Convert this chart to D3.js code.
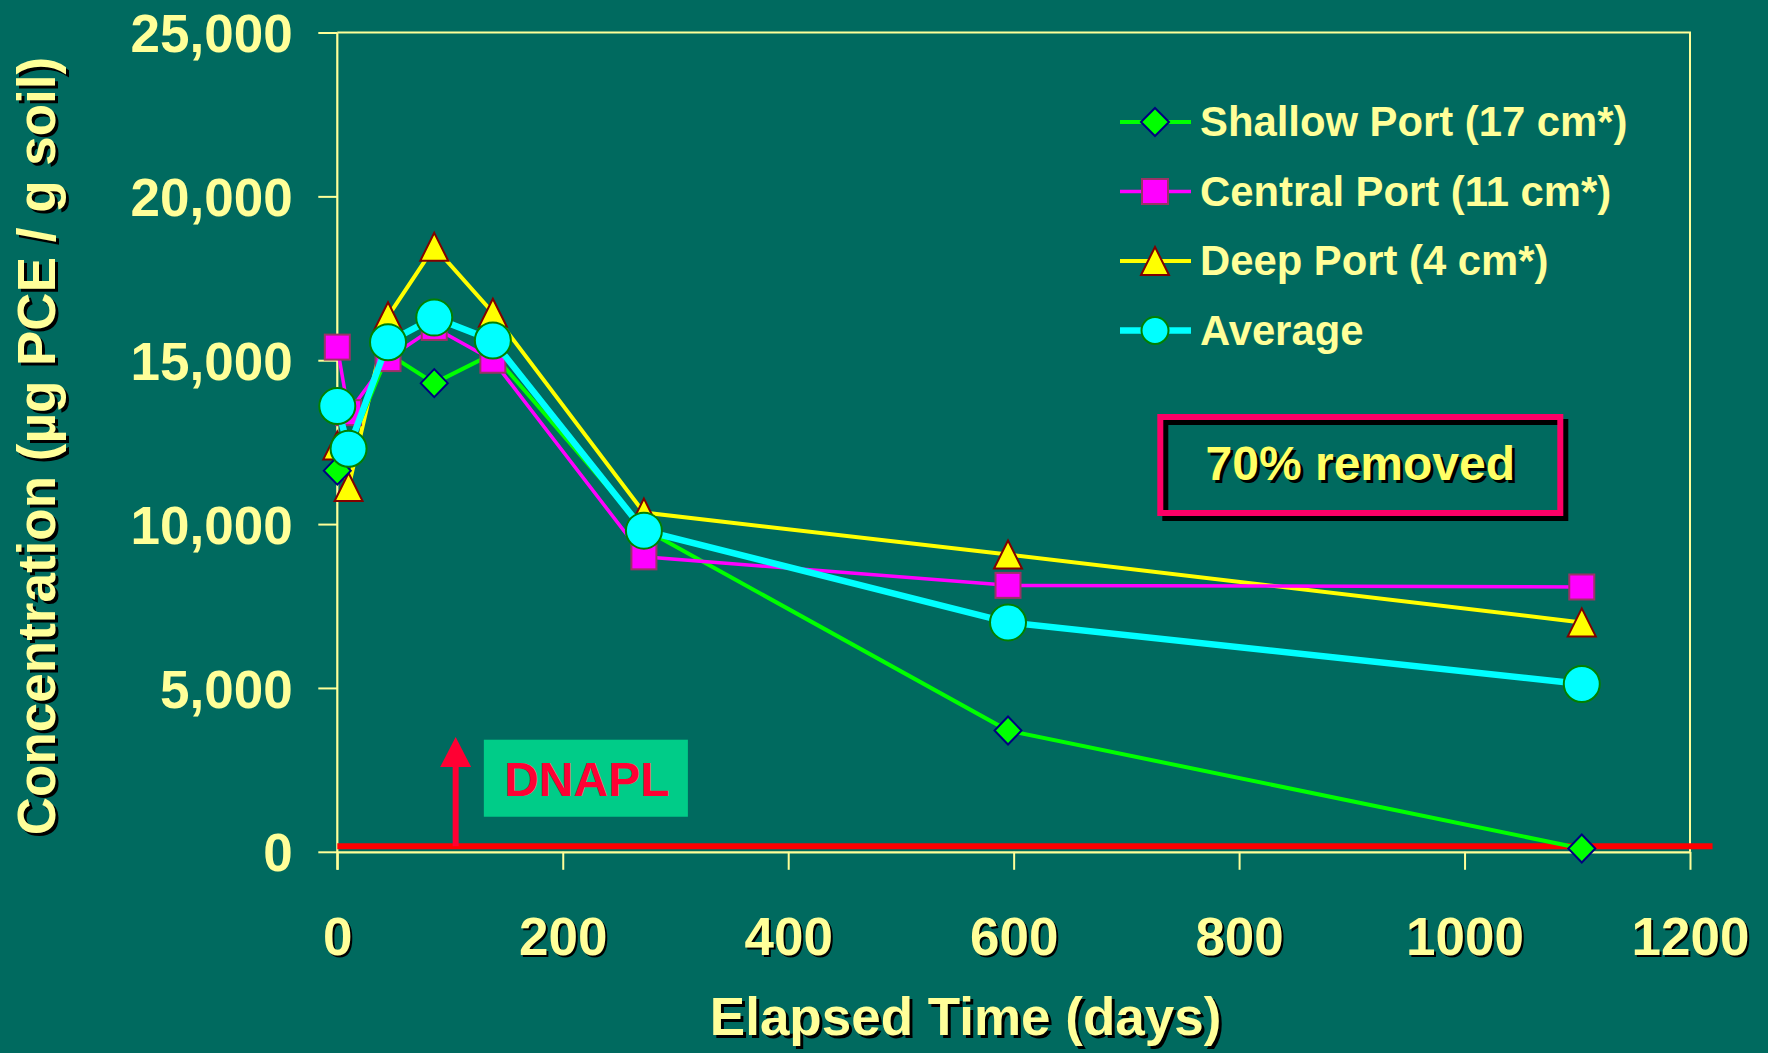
<!DOCTYPE html>
<html>
<head>
<meta charset="utf-8">
<script src="https://cdn.jsdelivr.net/npm/d3@7"></script>
<style>
  html, body { margin: 0; padding: 0; background: #006A5F; }
  svg { display: block; }
  text { font-family: "Liberation Sans", Arial, sans-serif; font-weight: bold; }
</style>
</head>
<body>
<svg id="chart" width="1768" height="1053"></svg>
<script>
// Elapsed time of each soil sample (days)
const days = [0, 10, 45, 86, 138, 272, 595, 1104];

// PCE concentration per sampling port (µg PCE / g soil)
const shallowPort = [11630, 12300, 15200, 14300, 15200, 9850, 3700, 100];
const centralPort = [15400, 13400, 15050, 16000, 15000, 9000, 8130, 8080];
const deepPort    = [12400, 11130, 16340, 18460, 16450, 10350, 9070, 7000];
const averagePort = [13600, 12300, 15550, 16300, 15600, 9800, 7000, 5120];

const seriesNames = ["Shallow Port (17 cm*)", "Central Port (11 cm*)", "Deep Port (4 cm*)", "Average"];

// Axis ticks
const xTicks = [0, 200, 400, 600, 800, 1000, 1200];
const yTicks = [0, 5000, 10000, 15000, 20000, 25000];

// Annotations
const removedLabel = "70% removed";
const dnaplLabel = "DNAPL";
const dnaplDay = 105;          // day the arrow points at
const dnaplLevel = 170;        // red DNAPL line level
const dnaplLineEnd = 1220;     // red line extends past the last tick

const BG = "#006A5F";
const AXIS = "#FFFF99";
const TEXT = "#FFFF99";

const svg = d3.select("#chart");
svg.append("rect").attr("width", 1768).attr("height", 1053).attr("fill", BG);

const plotLeft = 337.3, plotRight = 1690, plotTop = 32.5, plotBottom = 851.8;
const x = d3.scaleLinear().domain([0, 1200]).range([plotLeft, plotRight]);
const y = d3.scaleLinear().domain([0, 25000]).range([plotBottom, plotTop]);

// Frame (top and right edges)
svg.append("path")
  .attr("d", `M${x(0)},${y(25000)}H${x(1200)}V${y(0)}`)
  .attr("fill", "none").attr("stroke", AXIS).attr("stroke-width", 2);

// Y axis
const yAxis = svg.append("g")
  .attr("transform", `translate(${x(0)},0)`)
  .call(d3.axisLeft(y).tickValues(yTicks).tickSize(19).tickSizeOuter(0)
    .tickPadding(25.6).tickFormat(d3.format(",")));
yAxis.select(".domain").attr("stroke", AXIS).attr("stroke-width", 2.2)
  .attr("d", `M0,${y(25000)}V${y(0) + 18}`);
yAxis.selectAll(".tick line").attr("stroke", AXIS).attr("stroke-width", 2);
yAxis.selectAll(".tick text")
  .attr("fill", TEXT).attr("font-size", 53).attr("dy", "0.36em")
  .style("font-family", '"Liberation Sans", Arial, sans-serif').style("font-weight", "bold");

// X axis
const xAxis = svg.append("g")
  .attr("transform", `translate(0,${y(0)})`)
  .call(d3.axisBottom(x).tickValues(xTicks).tickSize(18).tickSizeOuter(0).tickFormat(d3.format("d")));
xAxis.select(".domain").attr("stroke", AXIS).attr("stroke-width", 2.2);
xAxis.selectAll(".tick line").attr("stroke", AXIS).attr("stroke-width", 2);
xAxis.selectAll(".tick text").remove();
xAxis.selectAll(".tick").each(function (d) {
  const g = d3.select(this);
  g.append("text").attr("x", 2).attr("y", 105).attr("text-anchor", "middle")
    .attr("font-size", 53).attr("fill", "#000").text(d);
  g.append("text").attr("x", 0).attr("y", 103).attr("text-anchor", "middle")
    .attr("font-size", 53).attr("fill", TEXT).text(d);
});

// Axis titles with drop shadow
function shadowText(g, txt, size, fill, off) {
  g.append("text").attr("x", off[0]).attr("y", off[1]).attr("text-anchor", "middle")
    .attr("font-size", size).attr("fill", "#000").text(txt);
  g.append("text").attr("text-anchor", "middle")
    .attr("font-size", size).attr("fill", fill).text(txt);
}
shadowText(svg.append("g").attr("transform", "translate(965.6,1035)"),
  "Elapsed Time (days)", 53, TEXT, [3, 3]);
shadowText(svg.append("g").attr("transform", "translate(55,446) rotate(-90)"),
  "Concentration (\u00b5g PCE / g soil)", 53, TEXT, [-3, 3]);

// DNAPL marker: red level line, arrow and label
svg.append("line")
  .attr("x1", x(0)).attr("x2", x(dnaplLineEnd))
  .attr("y1", y(dnaplLevel)).attr("y2", y(dnaplLevel))
  .attr("stroke", "#FF0000").attr("stroke-width", 6);
const ax = x(dnaplDay), aTip = y(3500), aBase = aTip + 30;
svg.append("line").attr("x1", ax).attr("x2", ax).attr("y1", y(dnaplLevel)).attr("y2", aBase - 1)
  .attr("stroke", "#FF0033").attr("stroke-width", 6);
svg.append("path").attr("d", `M${ax},${aTip}L${ax + 15.5},${aBase}L${ax - 15.5},${aBase}Z`)
  .attr("fill", "#FF0033");
svg.append("rect").attr("x", x(130)).attr("y", y(3420)).attr("width", x(311) - x(130))
  .attr("height", y(1070) - y(3420)).attr("fill", "#00CC88");
svg.append("text").attr("x", (x(130) + x(311)) / 2 + 1).attr("y", 796)
  .attr("text-anchor", "middle").attr("font-size", 48).attr("fill", "#FF0033").text(dnaplLabel);

// "70% removed" box
const bx = 1160.3, by = 417, bw = 400, bh = 96;
svg.append("rect").attr("x", bx + 5).attr("y", by + 5).attr("width", bw).attr("height", bh)
  .attr("fill", "none").attr("stroke", "#000").attr("stroke-width", 6);
svg.append("rect").attr("x", bx).attr("y", by).attr("width", bw).attr("height", bh)
  .attr("fill", "none").attr("stroke", "#FF0066").attr("stroke-width", 6);
svg.append("text").attr("x", bx + bw / 2 + 3).attr("y", 483)
  .attr("text-anchor", "middle").attr("font-size", 48).attr("fill", "#000").text(removedLabel);
svg.append("text").attr("x", bx + bw / 2).attr("y", 480)
  .attr("text-anchor", "middle").attr("font-size", 48).attr("fill", "#FFFF66").text(removedLabel);

// Marker shapes
const markers = {
  diamond: (g, s) => g.append("path")
    .attr("d", `M0,${-s.h / 2}L${s.w / 2},0L0,${s.h / 2}L${-s.w / 2},0Z`),
  square: (g, s) => g.append("rect")
    .attr("x", -s.w / 2).attr("y", -s.h / 2).attr("width", s.w).attr("height", s.h),
  triangle: (g, s) => g.append("path")
    .attr("d", `M0,${-s.h / 2}L${s.w / 2},${s.h / 2}L${-s.w / 2},${s.h / 2}Z`),
  circle: (g, s) => g.append("circle").attr("r", s.r)
};

const series = [
  { name: seriesNames[0], values: shallowPort, line: "#00FF00", lw: 4, shape: "diamond",
    fill: "#00FF00", stroke: "#000080", size: { w: 27, h: 28 }, legend: { w: 28, h: 28 } },
  { name: seriesNames[1], values: centralPort, line: "#FF00FF", lw: 3.5, shape: "square",
    fill: "#FF00FF", stroke: "#993366", size: { w: 25, h: 25 }, legend: { w: 26, h: 25 } },
  { name: seriesNames[2], values: deepPort, line: "#FFFF00", lw: 4, shape: "triangle",
    fill: "#FFFF00", stroke: "#800000", size: { w: 28, h: 28 }, legend: { w: 28, h: 28 } },
  { name: seriesNames[3], values: averagePort, line: "#00FFFF", lw: 6.5, shape: "circle",
    fill: "#00FFFF", stroke: "#008000", size: { r: 18 }, legend: { r: 13.5 } }
];

// Drawing order: deep, shallow, central, average
const drawOrder = [2, 0, 1, 3];
const lineGen = d3.line().x(d => x(d[0])).y(d => y(d[1]));
drawOrder.forEach(i => {
  const s = series[i];
  const pts = days.map((d, k) => [d, s.values[k]]);
  const g = svg.append("g");
  g.append("path").attr("d", lineGen(pts)).attr("fill", "none")
    .attr("stroke", s.line).attr("stroke-width", s.lw).attr("stroke-linejoin", "miter");
  pts.forEach(p => {
    const mg = g.append("g").attr("transform", `translate(${x(p[0])},${y(p[1])})`);
    markers[s.shape](mg, s.size).attr("fill", s.fill).attr("stroke", s.stroke).attr("stroke-width", 2);
  });
});

// Legend
const legend = svg.append("g");
series.forEach((s, i) => {
  const ry = 122 + i * 69.5;
  legend.append("line").attr("x1", 1120).attr("x2", 1191).attr("y1", ry).attr("y2", ry)
    .attr("stroke", s.line).attr("stroke-width", s.lw);
  const mg = legend.append("g").attr("transform", `translate(1155,${ry})`);
  markers[s.shape](mg, s.legend).attr("fill", s.fill).attr("stroke", s.stroke).attr("stroke-width", 2);
  legend.append("text").attr("x", 1200).attr("y", ry + 14)
    .attr("font-size", 41.8).attr("fill", TEXT).text(s.name);
});
</script>
</body>
</html>
